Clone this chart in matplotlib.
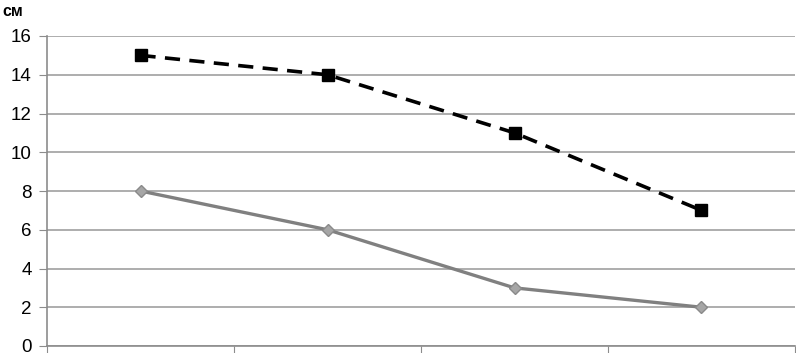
import numpy as np
import matplotlib
matplotlib.use("Agg")
import matplotlib.pyplot as plt

plt.rcParams['font.family'] = ['Liberation Sans', 'DejaVu Sans']

categories = ["1", "2", "3", "4"]
series_top = [15, 14, 11, 7]
series_bottom = [8, 6, 3, 2]
yticks = [0, 2, 4, 6, 8, 10, 12, 14, 16]

fig = plt.figure(figsize=(7.96, 3.53), dpi=100)
ax = fig.add_axes([47/796, 7/353, 748/796, 310/353])

x = np.arange(len(categories))
ax.plot(x, series_top, color='black', linestyle=(0, (4.2, 2.6)), linewidth=2.6,
        marker='s', markersize=9, markerfacecolor='black', zorder=3)
ax.plot(x, series_bottom, color='#808080', linewidth=2.4,
        marker='D', markersize=6.5, markerfacecolor='#a6a6a6',
        markeredgecolor='#8a8a8a', zorder=3)

ax.set_xlim(-0.5, len(categories) - 0.5)
ax.set_ylim(0, 16)
ax.set_yticks(yticks)
ax.set_xticks(np.arange(len(categories) + 1) - 0.5)
ax.set_xticklabels([])
ax.yaxis.grid(True, color='#a0a0a0', linewidth=1.2)
ax.set_axisbelow(True)

for s in ['top', 'right']:
    ax.spines[s].set_visible(False)
for s in ['left', 'bottom']:
    ax.spines[s].set_color('#8c8c8c')
    ax.spines[s].set_linewidth(1.2)

ax.tick_params(axis='y', length=6, color='#8c8c8c', labelsize=13.5, pad=5)
ax.tick_params(axis='x', length=7, color='#8c8c8c')

fig.text(2/796, 1 - 12/353, "см", fontsize=11.5, fontweight='bold', va='center')

fig.savefig("out.png", dpi=100)
